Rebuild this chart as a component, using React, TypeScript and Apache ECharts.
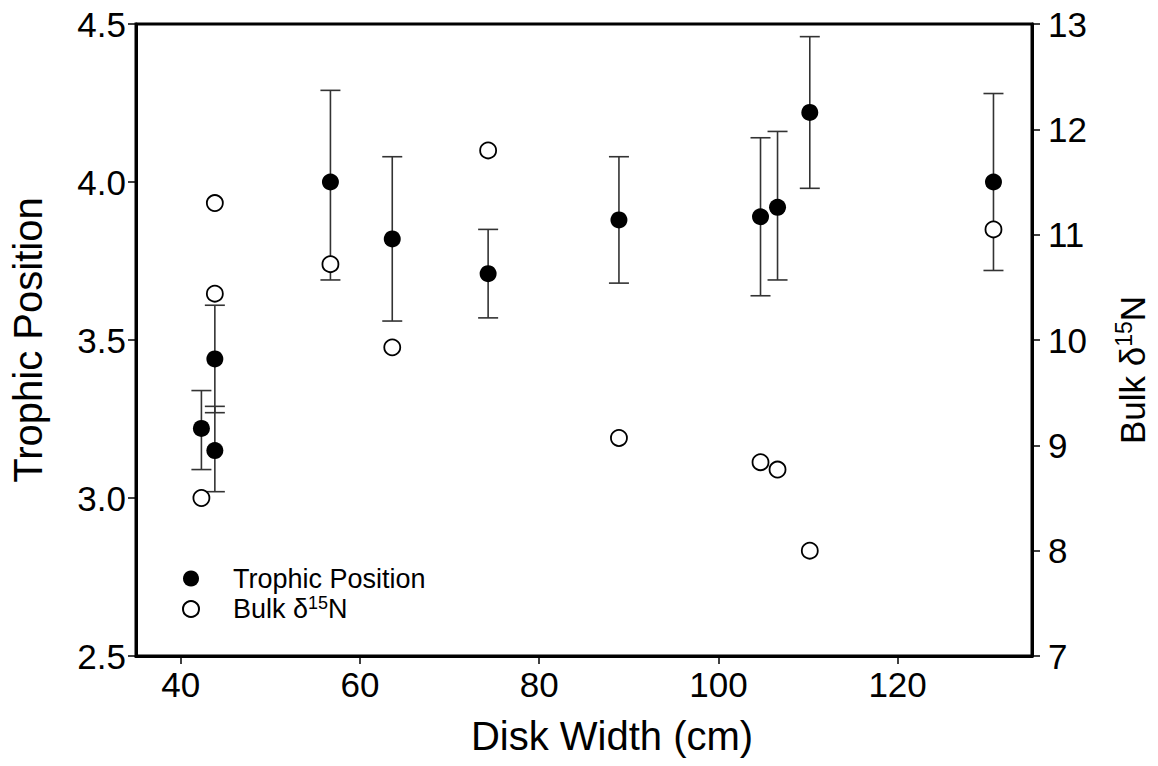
import React, { useEffect, useRef } from "react";
import * as echarts from "echarts";

const diskWidth = [42.3, 43.8, 43.8, 56.7, 63.6, 74.3, 88.9, 104.7, 106.6, 110.2, 130.7];
const trophicPosition = [3.22, 3.44, 3.15, 4.0, 3.82, 3.71, 3.88, 3.89, 3.92, 4.22, 4.0];
const tpLow = [3.09, 3.27, 3.02, 3.69, 3.56, 3.57, 3.68, 3.64, 3.69, 3.98, 3.72];
const tpHigh = [3.34, 3.61, 3.29, 4.29, 4.08, 3.85, 4.08, 4.14, 4.16, 4.46, 4.28];
const bulkN15 = [8.5, 11.3, 10.44, 10.72, 9.93, 11.8, 9.07, 8.84, 8.77, 8.0, 11.05];
const xTicks = [40, 60, 80, 100, 120];

const FONT = "'Liberation Sans', Arial, Helvetica, sans-serif";

export default function App() {
  const ref = useRef<HTMLDivElement>(null);
  useEffect(() => {
    if (!ref.current) return;
    const chart = echarts.init(ref.current, null, { renderer: "svg" });
    const tpData = diskWidth.map((x, i) => [x, trophicPosition[i]]);
    const nData = diskWidth.map((x, i) => [x, bulkN15[i]]);
    const errData = diskWidth.map((x, i) => [x, tpLow[i], tpHigh[i]]);
    const axisLine = { show: true, onZero: false, lineStyle: { color: "#000", width: 3 } };
    const axisTick = { show: true, inside: false, length: 8, lineStyle: { color: "#000", width: 1.5 } };
    const labelStyle = { color: "#000", fontSize: 35, fontFamily: FONT };
    chart.setOption({
      animation: false,
      backgroundColor: "#fff",
      textStyle: { fontFamily: FONT },
      grid: {
        left: 133,
        right: 126,
        top: 24,
        bottom: 110,
        show: true,
        borderColor: "#000",
        borderWidth: 3,
        backgroundColor: "transparent",
      },
      legend: {
        left: 182,
        top: 565,
        padding: 0,
        orient: "vertical",
        itemWidth: 16,
        itemHeight: 16,
        itemGap: 2,
        data: ["Trophic Position", "Bulk δ15N"],
        formatter: (name: string) =>
          name === "Bulk δ15N" ? "{g|}{a|Bulk δ}{s|15}{a|N}" : "{g|}{a|" + name + "}",
        textStyle: {
          color: "#000",
          fontFamily: FONT,
          rich: {
            g: { width: 29, height: 30 },
            a: { fontSize: 27, lineHeight: 30, color: "#000", fontFamily: FONT },
            s: { fontSize: 18, verticalAlign: "top", lineHeight: 30, color: "#000", fontFamily: FONT },
          },
        },
      },
      xAxis: {
        type: "value",
        min: 35,
        max: 135,
        name: "Disk Width (cm)",
        nameLocation: "middle",
        nameGap: 60,
        nameTextStyle: { color: "#000", fontSize: 40, fontFamily: FONT, padding: [0, 0, 0, 56] },
        axisLine,
        axisTick: { ...axisTick, customValues: xTicks },
        axisLabel: { ...labelStyle, margin: 11, customValues: xTicks },
        splitLine: { show: false },
      },
      yAxis: [
        {
          type: "value",
          position: "left",
          min: 2.5,
          max: 4.5,
          interval: 0.5,
          name: "Trophic Position",
          nameLocation: "middle",
          nameGap: 88,
          nameTextStyle: { color: "#000", fontSize: 40, fontFamily: FONT },
          axisLine,
          axisTick,
          axisLabel: { ...labelStyle, margin: 10, formatter: (v: number) => v.toFixed(1) },
          splitLine: { show: false },
        },
        {
          type: "value",
          position: "right",
          min: 7,
          max: 13,
          interval: 1,
          name: "{a|Bulk δ}{s|15}{a|N}",
          nameLocation: "middle",
          nameRotate: 90,
          nameGap: 80,
          nameTextStyle: {
            color: "#000",
            fontFamily: FONT,
            padding: [0, 60, 0, 0],
            rich: {
              a: { fontSize: 35, lineHeight: 40, color: "#000", fontFamily: FONT },
              s: { fontSize: 23, verticalAlign: "top", lineHeight: 40, color: "#000", fontFamily: FONT },
            },
          },
          axisLine,
          axisTick,
          axisLabel: { ...labelStyle, margin: 16 },
          splitLine: { show: false },
        },
      ],
      series: [
        {
          type: "custom",
          name: "err",
          xAxisIndex: 0,
          yAxisIndex: 0,
          data: errData,
          encode: { x: 0, y: [1, 2] },
          z: 1,
          renderItem: (params: any, api: any) => {
            const x = api.value(0);
            const lo = api.coord([x, api.value(1)]);
            const hi = api.coord([x, api.value(2)]);
            const hw = 10;
            const style = { stroke: "#333", lineWidth: 1.6 };
            return {
              type: "group",
              children: [
                { type: "line", shape: { x1: lo[0], y1: lo[1], x2: hi[0], y2: hi[1] }, style },
                { type: "line", shape: { x1: hi[0] - hw, y1: hi[1], x2: hi[0] + hw, y2: hi[1] }, style },
                { type: "line", shape: { x1: lo[0] - hw, y1: lo[1], x2: lo[0] + hw, y2: lo[1] }, style },
              ],
            };
          },
        },
        {
          type: "scatter",
          name: "Bulk δ15N",
          yAxisIndex: 1,
          data: nData,
          symbol: "circle",
          symbolSize: 16,
          z: 2,
          itemStyle: { color: "#fff", borderColor: "#000", borderWidth: 1.8, opacity: 1 },
        },
        {
          type: "scatter",
          name: "Trophic Position",
          yAxisIndex: 0,
          data: tpData,
          symbol: "circle",
          symbolSize: 17,
          z: 3,
          itemStyle: { color: "#000", opacity: 1 },
        },
      ],
    });
    return () => chart.dispose();
  }, []);
  return (
    <div
      ref={ref}
      style={{ position: "absolute", left: 0, top: 0, width: 1158, height: 766, background: "#fff" }}
    />
  );
}
